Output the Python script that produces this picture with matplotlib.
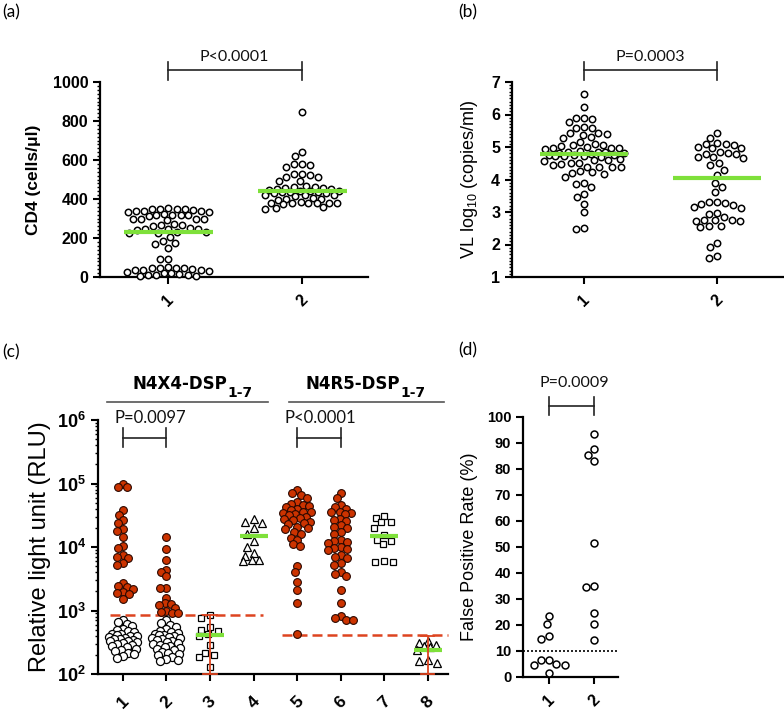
import numpy as np
import matplotlib
matplotlib.use('Agg')
import matplotlib.pyplot as plt
import matplotlib.transforms as mtransforms
from matplotlib.ticker import MultipleLocator, LogLocator, NullFormatter

plt.rcParams['font.family'] = ['Liberation Sans', 'DejaVu Sans']
plt.rcParams['mathtext.fontset'] = 'custom'
plt.rcParams['mathtext.rm'] = 'Liberation Sans'
plt.rcParams['mathtext.bf'] = 'Liberation Sans:bold'
plt.rcParams['mathtext.it'] = 'Liberation Sans:italic'

# ---------------- data ----------------
# (a) CD4 counts
cd4_g1 = [352, 350, 349, 348, 347, 345, 340, 338, 336, 335, 333, 325, 320, 318, 317,
          316, 315, 300, 298, 297, 295, 293, 270, 268, 265, 262, 250, 248, 246, 245,
          242, 232, 230, 228, 226, 205, 186, 172, 170, 148, 92, 90, 50, 48, 47, 45,
          44, 40, 38, 36, 35, 30, 27, 22, 20, 15, 12, 10, 8, 6, 3]
cd4_g2 = [845, 643, 620, 582, 578, 575, 566, 530, 528, 525, 515, 512, 494, 490, 465,
          463, 460, 458, 455, 453, 450, 445, 443, 441, 440, 438, 437, 435, 432, 430,
          422, 420, 418, 415, 405, 402, 398, 395, 383, 382, 381, 380, 379, 378, 377,
          376, 358, 355, 350]
cd4_median = [229, 441]
cd4_categories = ['1', '2']

# (b) viral load log10
vl_g1 = [6.64, 6.24, 5.90, 5.88, 5.87, 5.76, 5.63, 5.60, 5.58, 5.44, 5.42, 5.40, 5.38,
         5.30, 5.28, 5.14, 5.08, 5.06, 5.05, 5.04, 4.99, 4.98, 4.97, 4.96, 4.95, 4.88,
         4.86, 4.85, 4.84, 4.83, 4.82, 4.80, 4.76, 4.75, 4.74, 4.73, 4.72, 4.71, 4.70,
         4.62, 4.60, 4.59, 4.58, 4.52, 4.50, 4.48, 4.46, 4.40, 4.39, 4.38, 4.37, 4.25,
         4.22, 4.20, 4.18, 4.08, 3.90, 3.87, 3.76, 3.56, 3.45, 3.26, 2.99, 2.52, 2.49]
vl_g2 = [5.42, 5.29, 5.12, 5.10, 5.08, 5.06, 5.00, 4.98, 4.96, 4.84, 4.82, 4.80, 4.78,
         4.70, 4.68, 4.66, 4.50, 4.45, 4.30, 4.14, 3.90, 3.77, 3.62, 3.32, 3.30, 3.28,
         3.26, 3.22, 3.16, 3.12, 2.98, 2.95, 2.85, 2.76, 2.75, 2.74, 2.73, 2.72, 2.57,
         2.56, 2.55, 2.04, 1.93, 1.64, 1.60]
vl_median = [4.77, 4.04]
vl_categories = ['1', '2']

# (c) RLU
rlu_categories = ['1', '2', '3', '4', '5', '6', '7', '8']
g1_pos = [100000, 88000, 87000, 38000, 32000, 27000, 24000, 19000, 18000, 14500,
          10500, 9500, 7500, 7000, 6600, 5500, 5200, 2700, 2400, 2350, 2200, 1950,
          1900, 1850, 1500]
g1_neg = [720, 650, 610, 560, 520, 490, 470, 455, 430, 425, 410, 400, 392, 380, 372,
          360, 352, 345, 333, 325, 318, 305, 296, 285, 276, 262, 250, 242, 232, 212,
          204, 192, 180]
g2_pos = [14500, 9200, 6200, 4400, 4000, 3500, 2300, 2250, 1600, 1300, 1250, 1200,
          1100, 1000, 950, 920, 900]
g2_neg = [700, 640, 590, 540, 505, 480, 462, 445, 430, 418, 405, 396, 385, 372, 364,
          350, 342, 330, 322, 310, 300, 290, 280, 268, 258, 245, 236, 225, 214, 205,
          196, 185, 175, 165, 160]
g3 = [850, 775, 550, 495, 470, 425, 400, 285, 215, 200, 187, 130]
g4 = [27700, 25000, 24000, 19600, 16000, 12300, 10000, 8100, 7200, 6300, 6200, 6000]
g5 = [79000, 70000, 66000, 60000, 52000, 48000, 46000, 44000, 42000, 40000, 38000,
      36000, 35000, 34000, 33000, 32000, 30000, 29000, 28000, 27000, 25000, 24000,
      23000, 21000, 20000, 19000, 17000, 16000, 14000, 13000, 11000, 10500, 5000,
      4000, 2800, 2100, 1330, 430]
g6 = [71000, 59000, 46000, 42000, 40000, 36000, 35000, 34000, 33000, 28000, 27000,
      26000, 22000, 21000, 20000, 17000, 16000, 13000, 12500, 12000, 11500, 10000,
      9600, 9400, 9000, 7500, 7000, 6800, 5500, 5200, 4000, 3700, 3500, 2100, 1320,
      820, 760, 720, 700]
g7 = [31000, 29000, 25000, 24500, 20000, 15500, 13000, 12500, 11000, 6000, 5900, 5800]
g8 = [330, 310, 290, 280, 270, 240, 165, 160, 150]
rlu_median_groups = [3, 4, 7, 8]
rlu_median = [415, 15000, 15000, 240]
errbar_groups = [3, 8]
errbar_low = [100, 100]
errbar_high = [850, 390]
cutoff_1_4 = 850
cutoff_5_8 = 405

# (d) false positive rate
fpr_g1 = [23.6, 20.4, 15.6, 14.7, 6.7, 6.5, 5.0, 4.7, 4.6, 1.5]
fpr_g2 = [93.6, 87.6, 85.3, 83.1, 51.7, 34.9, 34.7, 24.6, 20.4, 14.4]
fpr_cutoff = 10
fpr_categories = ['1', '2']

# ---------------- style ----------------
GREEN = '#7ee03a'
RED = '#cc3300'
REDLINE = '#dd4420'
PFONT = ['Lato', 'DejaVu Sans']
HFONT = ['DejaVu Sans']

fig = plt.figure(figsize=(7.84, 7.12), dpi=100)
W, H = 784.0, 712.0


def rect(l, r, t, b):
    return [l / W, 1 - b / H, (r - l) / W, (b - t) / H]


ax_a = fig.add_axes(rect(100, 368, 82, 277))
ax_b = fig.add_axes(rect(512, 784, 82, 277))
ax_c = fig.add_axes(rect(98, 448, 420, 674))
ax_d = fig.add_axes(rect(523, 618, 417, 677))


def swarm(ax, xc, vals, d, maxw=None):
    vals = np.asarray(vals, float)
    pts = ax.transData.transform(np.column_stack([np.full(len(vals), xc), vals]))
    x0 = pts[0, 0]
    ys = pts[:, 1]
    order = np.argsort(-ys)
    px_l, py_l = [], []
    off = np.zeros(len(vals))
    for i in order:
        y = ys[i]
        near = [(px, py) for px, py in zip(px_l, py_l) if abs(py - y) < d]
        cands = [0.0]
        for px, py in near:
            dx = np.sqrt(max(d * d - (py - y) ** 2, 0))
            cands += [px + dx, px - dx]
        if maxw is not None:
            cands = [c for c in cands if abs(c) <= maxw + 1e-6]
            cands += list(np.arange(-maxw, maxw + 0.01, 1.0))
        cands.sort(key=lambda c: (abs(c), c))
        chosen = None
        for c in cands:
            if all((c - px) ** 2 + (y - py) ** 2 >= d * d - 1e-6 for px, py in near):
                chosen = c
                break
        if chosen is None:
            best, bd = 0.0, -1
            for c in cands:
                md = min(np.hypot(c - px, y - py) for px, py in near)
                if md > bd:
                    bd, best = md, c
            chosen = best
        off[i] = chosen
        px_l.append(chosen)
        py_l.append(y)
    back = ax.transData.inverted().transform(np.column_stack([x0 + off, ys]))
    return back[:, 0]


def base_style(ax, fs):
    for s in ['top', 'right']:
        ax.spines[s].set_visible(False)
    for s in ['left', 'bottom']:
        ax.spines[s].set_linewidth(1.6)
    ax.tick_params(axis='both', which='major', direction='out', length=5, width=1.5,
                   labelsize=fs)
    ax.tick_params(axis='both', which='minor', direction='out', length=2.5, width=1.0)
    ax.tick_params(axis='x', which='minor', bottom=False)


def xcats(ax, cats, fs, pad=6):
    ax.set_xticks(range(1, len(cats) + 1))
    ax.set_xticklabels(cats, rotation=45, fontweight='bold', fontsize=fs)
    ax.tick_params(axis='x', pad=pad)


def bracket(ax, x1, x2, yline, ytop, ybot, text, xt, yt, fs=11.5):
    tr = mtransforms.blended_transform_factory(ax.transData, ax.transAxes)
    kw = dict(transform=tr, color='#222222', lw=1.2, clip_on=False)
    ax.plot([x1, x2], [yline, yline], **kw)
    ax.plot([x1, x1], [ybot, ytop], **kw)
    ax.plot([x2, x2], [ybot, ytop], **kw)
    ax.text(xt, yt, text, transform=tr, ha='center', va='center', fontsize=fs,
            family=PFONT, color='#111111')


def median_line(ax, x, y, hw=0.33):
    ax.plot([x - hw, x + hw], [y, y], color=GREEN, lw=3.0, solid_capstyle='butt',
            zorder=5)


circ_kw = dict(ls='none', marker='o', mfc='white', mec='black', mew=1.1, ms=4.6,
               clip_on=False, zorder=3)

# ---------------- (a) ----------------
ax = ax_a
ax.set_xlim(0.49, 2.49)
ax.set_ylim(0, 1000)
base_style(ax, 11.5)
ax.set_yticks([0, 200, 400, 600, 800, 1000])
ax.set_yticklabels(['0', '200', '400', '600', '800', '1000'], fontweight='bold',
                   fontsize=11.5)
ax.yaxis.set_minor_locator(MultipleLocator(20))
xcats(ax, cd4_categories, 11.5)
for k, (vals, mw) in enumerate([(cd4_g1, 41), (cd4_g2, 37)]):
    xs = swarm(ax, k + 1, vals, 8.2, maxw=mw)
    ax.plot(xs, vals, **circ_kw)
    median_line(ax, k + 1, cd4_median[k])
ax.set_ylabel('CD4 (cells/\u03bcl)', fontweight='bold', fontsize=12.5, labelpad=8)
bracket(ax, 1, 2, 1.062, 1.103, 1.01, 'P<0.0001', 1.49, 1.128)

# ---------------- (b) ----------------
ax = ax_b
ax.set_xlim(0.46, 2.5)
ax.set_ylim(1, 7)
base_style(ax, 11.5)
ax.set_yticks([1, 2, 3, 4, 5, 6, 7])
ax.set_yticklabels(['1', '2', '3', '4', '5', '6', '7'], fontweight='bold', fontsize=11.5)
ax.yaxis.set_minor_locator(MultipleLocator(0.1))
xcats(ax, vl_categories, 11.5)
for k, (vals, mw) in enumerate([(vl_g1, 40), (vl_g2, 26)]):
    xs = swarm(ax, k + 1, vals, 8.2, maxw=mw)
    ax.plot(xs, vals, **circ_kw)
    median_line(ax, k + 1, vl_median[k])
ax.set_ylabel(r'VL log$_{10}$ (copies/ml)', fontsize=13, labelpad=8)
bracket(ax, 1, 2, 1.062, 1.103, 1.01, 'P=0.0003', 1.5, 1.128)

# ---------------- (c) ----------------
ax = ax_c
ax.set_yscale('log')
ax.set_xlim(0.43, 8.46)
ax.set_ylim(1e2, 1e6)
base_style(ax, 12)
ax.set_yticks([1e2, 1e3, 1e4, 1e5, 1e6])
ax.set_yticklabels([r'$\mathbf{10^{%d}}$' % e for e in range(2, 7)], fontsize=13)
ax.yaxis.set_minor_locator(LogLocator(base=10, subs=np.arange(2, 10)))
ax.yaxis.set_minor_formatter(NullFormatter())
xcats(ax, rlu_categories, 12.5, pad=9)
ax.set_ylabel('Relative light unit (RLU)', fontsize=17, labelpad=4)

red_kw = dict(ls='none', marker='o', mfc=RED, mec='#2a0800', mew=0.8, ms=5.6,
              clip_on=False, zorder=4)
open_kw = dict(ls='none', marker='o', mfc='white', mec='black', mew=0.9, ms=5.8,
               clip_on=False, zorder=3)
sq_kw = dict(ls='none', marker='s', mfc='white', mec='black', mew=0.9, ms=4.8,
             clip_on=False, zorder=3)
tri_kw = dict(ls='none', marker='^', mfc='white', mec='black', mew=0.9, ms=5.4,
              clip_on=False, zorder=3)

for gx, pos, neg in [(1, g1_pos, g1_neg), (2, g2_pos, g2_neg)]:
    allv = list(pos) + list(neg)
    xs = swarm(ax, gx, allv, 6.0, maxw=14)
    ax.plot(xs[:len(pos)], pos, **red_kw)
    ax.plot(xs[len(pos):], neg, **open_kw)
for gx, vals in [(5, g5), (6, g6)]:
    xs = swarm(ax, gx, vals, 6.5, maxw=14)
    ax.plot(xs, vals, **red_kw)
for gx, vals, kw in [(3, g3, sq_kw), (7, g7, sq_kw), (4, g4, tri_kw), (8, g8, tri_kw)]:
    xs = swarm(ax, gx, vals, 9.0, maxw=11)
    ax.plot(xs, vals, **kw)
for gx, lo, hi in zip(errbar_groups, errbar_low, errbar_high):
    ax.plot([gx, gx], [lo, hi], color=REDLINE, lw=1.3, zorder=6, clip_on=False)
    for yv in (lo, hi):
        ax.plot([gx - 0.15, gx + 0.15], [yv, yv], color=REDLINE, lw=1.3, zorder=6,
                clip_on=False)
for gx, m in zip(rlu_median_groups, rlu_median):
    median_line(ax, gx, m, hw=0.32)
ax.plot([0.70, 4.21], [cutoff_1_4, cutoff_1_4], color=REDLINE, lw=1.8, ls=(0, (4, 2)),
        zorder=2)
ax.plot([4.65, 8.46], [cutoff_5_8, cutoff_5_8], color=REDLINE, lw=1.8, ls=(0, (4, 2)),
        zorder=2, clip_on=False)

bracket(ax, 1, 2, 0.930, 0.967, 0.893, 'P=0.0097', 1.62, 1.009, fs=12)
bracket(ax, 5, 6, 0.930, 0.967, 0.893, 'P<0.0001', 5.52, 1.009, fs=12)

trc = mtransforms.blended_transform_factory(ax.transData, ax.transAxes)
for xl, xr, xend, name in [(0.63, 4.33, 3.385, 'N4X4-DSP'), (4.81, 8.36, 7.35, 'N4R5-DSP')]:
    ax.plot([xl, xr], [1.07, 1.07], transform=trc, color='#555555', lw=1.2,
            clip_on=False)
    ax.text(xend, 1.142, name, transform=trc, ha='right', va='center',
            fontsize=12, fontweight='bold', family=HFONT)
    ax.text(xend + 0.02, 1.105, '1-7', transform=trc, ha='left', va='center',
            fontsize=10, fontweight='bold', family=HFONT)

# ---------------- (d) ----------------
ax = ax_d
ax.set_xlim(0.42, 2.53)
ax.set_ylim(0, 100)
base_style(ax, 10.5)
ax.set_yticks(range(0, 101, 10))
ax.set_yticklabels([str(v) for v in range(0, 101, 10)], fontweight='bold', fontsize=10.5)
xcats(ax, fpr_categories, 11.5)
ax.axhline(fpr_cutoff, color='black', lw=1.2, ls=(0, (1.2, 1.2)), zorder=2)
for k, vals in enumerate([fpr_g1, fpr_g2]):
    xs = swarm(ax, k + 1, vals, 8.5)
    ax.plot(xs, vals, **dict(circ_kw, ms=5.0))
ax.set_ylabel('False Positive Rate (%)', fontsize=13, labelpad=6)
bracket(ax, 1, 2, 1.043, 1.076, 1.008, 'P=0.0009', 1.56, 1.132)

# ---------------- panel labels ----------------
for x, y, s in [(2, 12, '(a)'), (458, 12, '(b)'), (2, 352, '(c)'), (458, 350, '(d)')]:
    fig.text(x / W, 1 - y / H, s, ha='left', va='center', fontsize=12.5, family=PFONT)

fig.savefig('out.png', dpi=100)
